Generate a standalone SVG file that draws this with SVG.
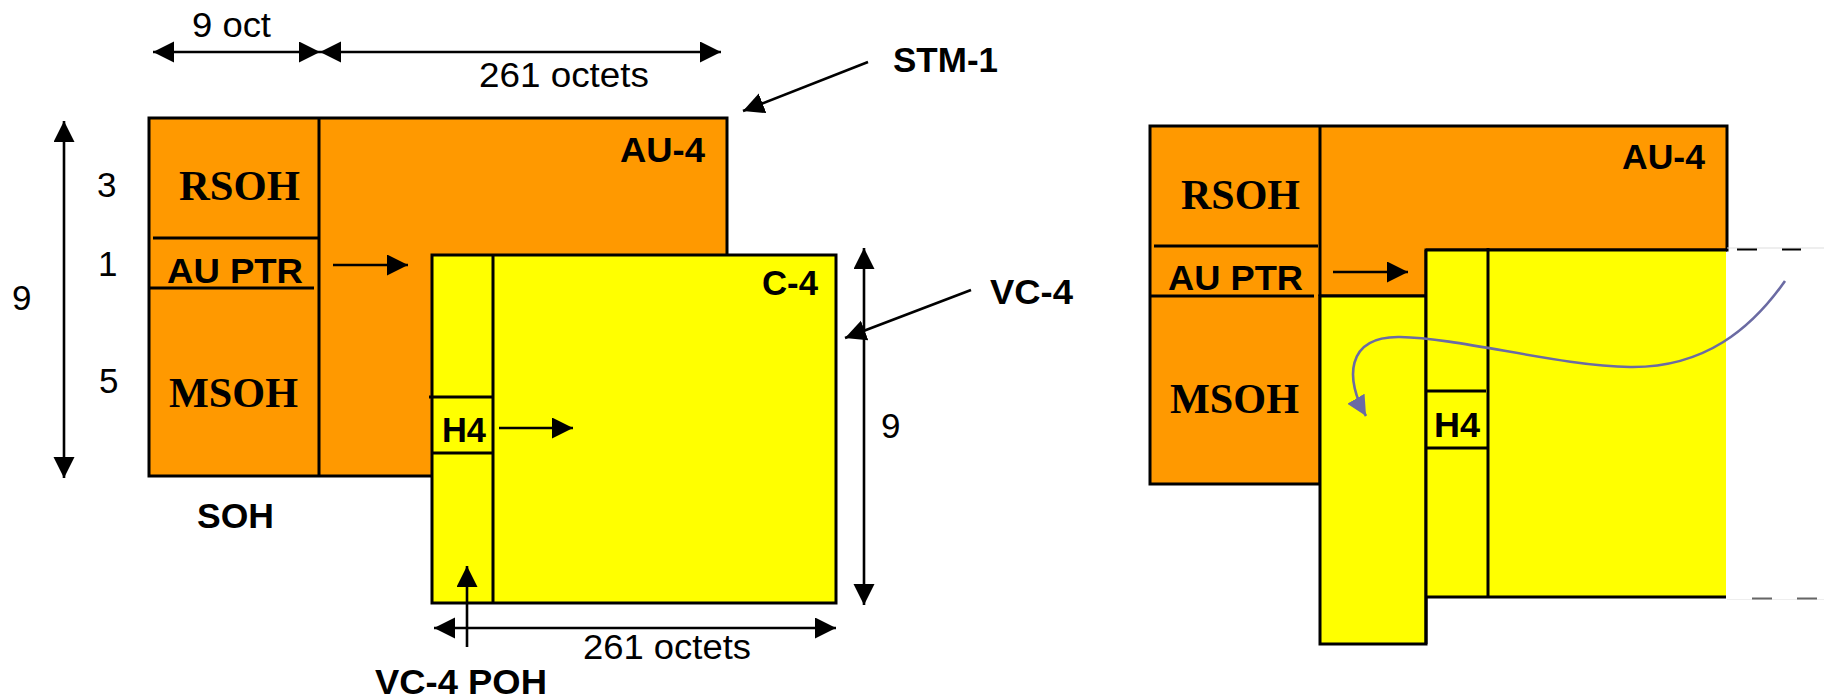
<svg xmlns="http://www.w3.org/2000/svg" width="1824" height="698" viewBox="0 0 1824 698">
<defs>
<style>
.or{fill:#FF9900;stroke:#000;stroke-width:3}
.ye{fill:#FFFF00;stroke:#000;stroke-width:3}
.ln{stroke:#000;stroke-width:3;fill:none}
.ar{stroke:#000;stroke-width:2.6;fill:none;marker-end:url(#ah)}
.dar{stroke:#000;stroke-width:2.6;fill:none;marker-end:url(#ah);marker-start:url(#ahs)}
.sb{font-family:'Liberation Serif',serif;font-weight:bold;font-size:42px;fill:#000}
.b{font-family:'Liberation Sans',Arial,sans-serif;font-weight:bold;font-size:35px;fill:#000}
.r{font-family:'Liberation Sans',Arial,sans-serif;font-size:35px;fill:#000}
</style>
<marker id="ah" markerUnits="userSpaceOnUse" markerWidth="22" markerHeight="22" refX="21" refY="10.5" orient="auto"><path d="M0,0 L21,10.5 L0,21 z" fill="#000"/></marker>
<marker id="ahs" markerUnits="userSpaceOnUse" markerWidth="22" markerHeight="22" refX="21" refY="10.5" orient="auto-start-reverse"><path d="M0,0 L21,10.5 L0,21 z" fill="#000"/></marker>
<marker id="ahp" markerUnits="userSpaceOnUse" markerWidth="24" markerHeight="24" refX="20" refY="10" orient="auto"><path d="M0,0 L20,10 L0,20 z" fill="#6B6BA3"/></marker>
</defs>
<rect width="1824" height="698" fill="#fff"/>

<g id="stm1-left">
<rect class="or" x="149" y="118" width="578" height="358"/>
<line class="ln" x1="319" y1="118" x2="319" y2="476"/>
<line class="ln" x1="153" y1="238" x2="318" y2="238"/>
<line class="ln" x1="149" y1="288" x2="314" y2="288"/>
<text class="sb" x="179" y="200" textLength="121" lengthAdjust="spacingAndGlyphs">RSOH</text>
<text class="b" x="167" y="283" textLength="136" lengthAdjust="spacingAndGlyphs">AU PTR</text>
<text class="sb" x="169" y="407" textLength="129" lengthAdjust="spacingAndGlyphs">MSOH</text>
<text class="b" x="620" y="162" textLength="85" lengthAdjust="spacingAndGlyphs">AU-4</text>
</g>

<g id="vc4-left">
<rect class="ye" x="432" y="255" width="404" height="348"/>
<line class="ln" x1="493" y1="255" x2="493" y2="603"/>
<line class="ln" x1="429" y1="397" x2="492" y2="397"/>
<line class="ln" x1="432" y1="453" x2="493" y2="453"/>
<text class="b" x="442" y="442" textLength="44" lengthAdjust="spacingAndGlyphs">H4</text>
<text class="b" x="762" y="295" textLength="56" lengthAdjust="spacingAndGlyphs">C-4</text>
</g>

<g id="stm1-right">
<path class="or" d="M1150,126 H1727 V250 H1426 V296 H1320 V484 H1150 Z"/>
<line class="ln" x1="1320" y1="126" x2="1320" y2="296"/>
<line class="ln" x1="1154" y1="246" x2="1318" y2="246"/>
<line class="ln" x1="1150" y1="296" x2="1314" y2="296"/>
<text class="sb" x="1181" y="209" textLength="119" lengthAdjust="spacingAndGlyphs">RSOH</text>
<text class="b" x="1168" y="290" textLength="135" lengthAdjust="spacingAndGlyphs">AU PTR</text>
<text class="sb" x="1170" y="413" textLength="129" lengthAdjust="spacingAndGlyphs">MSOH</text>
<text class="b" x="1622" y="169" textLength="83" lengthAdjust="spacingAndGlyphs">AU-4</text>
</g>

<g id="vc4-right">
<rect class="ye" x="1320" y="296" width="106" height="348"/>
<rect x="1426" y="250" width="300" height="347" fill="#FFFF00"/>
<line class="ln" x1="1426" y1="250" x2="1727" y2="250"/>
<line class="ln" x1="1426" y1="597" x2="1726" y2="597"/>
<line class="ln" x1="1426" y1="250" x2="1426" y2="644"/>
<line class="ln" x1="1488" y1="248" x2="1488" y2="597"/>
<line class="ln" x1="1426" y1="391" x2="1486" y2="391"/>
<line class="ln" x1="1426" y1="448" x2="1488" y2="448"/>
<text class="b" x="1434" y="437" textLength="46" lengthAdjust="spacingAndGlyphs">H4</text>
<line x1="1727" y1="248" x2="1824" y2="248" stroke="#ddd" stroke-width="1"/>
<line x1="1727" y1="599.5" x2="1824" y2="599.5" stroke="#eee" stroke-width="1"/>
<line x1="1737" y1="249.5" x2="1757" y2="249.5" stroke="#000" stroke-width="2"/>
<line x1="1782" y1="249.5" x2="1801" y2="249.5" stroke="#000" stroke-width="2"/>
<line x1="1752" y1="598.5" x2="1772" y2="598.5" stroke="#666" stroke-width="2"/>
<line x1="1797" y1="598.5" x2="1817" y2="598.5" stroke="#666" stroke-width="2"/>
</g>

<g id="connectors">
<line class="dar" x1="153" y1="52" x2="320" y2="52"/>
<line class="dar" x1="320" y1="52" x2="721" y2="52"/>
<line class="dar" x1="64" y1="121" x2="64" y2="478"/>
<line class="dar" x1="864" y1="248" x2="864" y2="605"/>
<line class="dar" x1="434" y1="628" x2="836" y2="628"/>
<line class="ar" x1="333" y1="265" x2="408" y2="265"/>
<line class="ar" x1="499" y1="428" x2="573" y2="428"/>
<line class="ar" x1="467" y1="647" x2="467" y2="566"/>
<line class="ar" x1="868" y1="62" x2="743" y2="111"/>
<line class="ar" x1="971" y1="290" x2="845" y2="338"/>
<line class="ar" x1="1333" y1="272" x2="1408" y2="272"/>
<path d="M1785,281 C1752,328 1705,368 1630,367 C1560,366 1460,338 1400,337 C1345,336 1345,380 1366,416" fill="none" stroke="#6B6BA3" stroke-width="2.6" marker-end="url(#ahp)"/>
</g>

<g id="labels">
<text class="r" x="192" y="37" textLength="79" lengthAdjust="spacingAndGlyphs">9 oct</text>
<text class="r" x="479" y="87" textLength="170" lengthAdjust="spacingAndGlyphs">261 octets</text>
<text class="r" x="583" y="659" textLength="168" lengthAdjust="spacingAndGlyphs">261 octets</text>
<text class="r" x="97" y="197">3</text>
<text class="r" x="98" y="276">1</text>
<text class="r" x="99" y="393">5</text>
<text class="r" x="12" y="310">9</text>
<text class="r" x="881" y="438">9</text>
<text class="b" x="197" y="528" textLength="77" lengthAdjust="spacingAndGlyphs">SOH</text>
<text class="b" x="375" y="694" textLength="172" lengthAdjust="spacingAndGlyphs">VC-4 POH</text>
<text class="b" x="893" y="72" textLength="105" lengthAdjust="spacingAndGlyphs">STM-1</text>
<text class="b" x="990" y="304" textLength="83" lengthAdjust="spacingAndGlyphs">VC-4</text>
</g>
</svg>
